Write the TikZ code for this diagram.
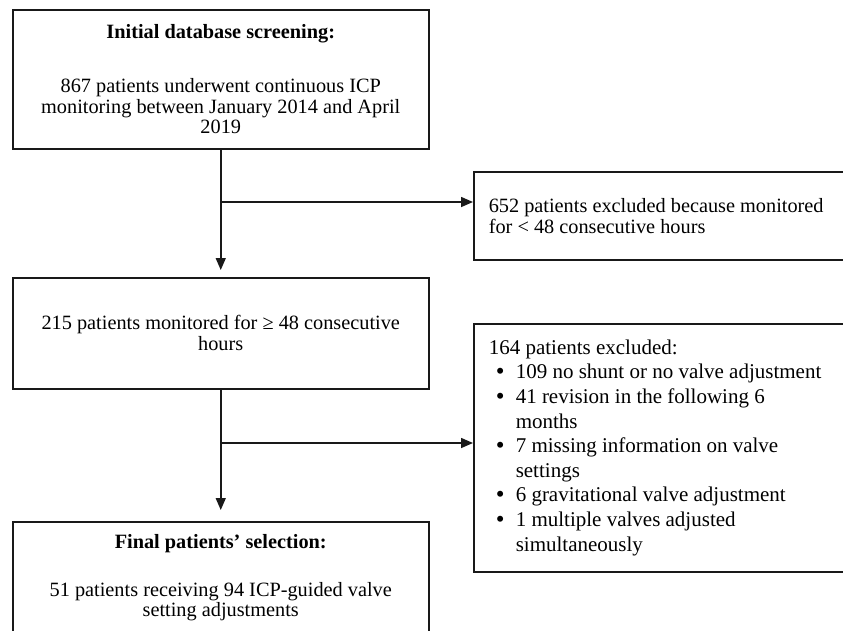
\documentclass[tikz,border=0pt]{standalone}
\usepackage{fontspec}
\setmainfont{Liberation Serif}
\usetikzlibrary{arrows.meta}
\newcommand\bitem[1]{\makebox[27pt][l]{\hspace{7pt}\raisebox{-0.5pt}{\fontsize{25}{25}\selectfont\textbullet}}#1}
\newcommand\bcont[1]{\hspace*{27pt}#1}
\begin{document}
\begin{tikzpicture}[x=1pt,y=-1pt,
  box/.style={draw=black!90, line width=1.5pt, rectangle, inner sep=0pt,
    font=\fontsize{20.3}{20.8}\selectfont},
  leftbox/.style={box, align=flush left, text width=354pt},
  arr/.style={draw=black!90, line width=1.5pt, -{Triangle[length=12pt,width=10pt]}},
  lin/.style={draw=black!90, line width=1.5pt}]
\useasboundingbox (0,0) rectangle (843,630);
\clip (0,0) rectangle (843,630);
\fill[white] (0,0) rectangle (843,630);

\node[box, align=center, minimum width=416pt, minimum height=139pt, anchor=north west] (b1) at (12,9)
  {\textbf{Initial database screening:}\\[33pt]
   867 patients underwent continuous ICP\\
   monitoring between January 2014 and April\\
   2019};

\node[leftbox, minimum height=88pt, anchor=north west, inner xsep=15pt] (r1) at (473,171)
  {652 patients excluded because monitored\\
   for < 48 consecutive hours};

\node[box, align=center, minimum width=416pt, minimum height=111pt, anchor=north west] (b2) at (12,277)
  {215 patients monitored for ≥ 48 consecutive\\
   hours};

\node[leftbox, minimum height=248pt, anchor=north west, inner xsep=15pt,
  font=\fontsize{21}{24.6}\selectfont] (r2) at (473,323)
  {164 patients excluded:\\
   \bitem{109 no shunt or no valve adjustment}\\
   \bitem{41 revision in the following 6}\\
   \bcont{months}\\
   \bitem{7 missing information on valve}\\
   \bcont{settings}\\
   \bitem{6 gravitational valve adjustment}\\
   \bitem{1 multiple valves adjusted}\\
   \bcont{simultaneously}};

\node[box, align=center, minimum width=416pt, minimum height=112pt, anchor=north west] (b3) at (12,521)
  {\textbf{Final patients’ selection:}\\[27pt]
   51 patients receiving 94 ICP-guided valve\\
   setting adjustments};

\coordinate (j1) at (b1.south |- 0,202);
\coordinate (j2) at (b2.south |- 0,443);
\draw[arr] (b1.south) -- ([yshift=7pt]b2.north);
\draw[arr] (j1) -- (j1 -| r1.west);
\draw[arr] (b2.south) -- ([yshift=11pt]b3.north);
\draw[arr] (j2) -- (j2 -| r2.west);
\end{tikzpicture}
\end{document}
